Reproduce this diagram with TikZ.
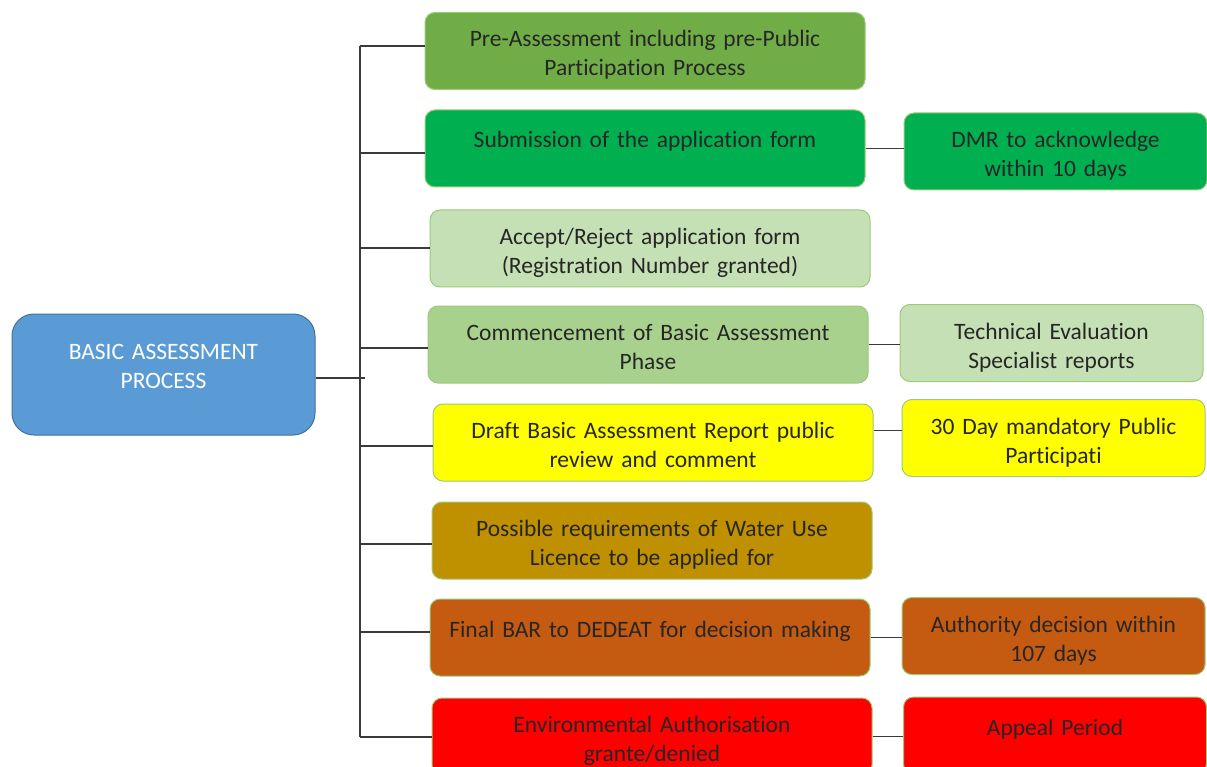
\documentclass[tikz,border=0pt]{standalone}
\usepackage{fontspec}
\setmainfont{Carlito}[Ligatures=CommonOff]
\usepackage{tikz}

\definecolor{mainblue}{HTML}{5B9BD5}
\definecolor{mainedge}{HTML}{41719C}
\definecolor{boxedge}{HTML}{9CCB78}
\definecolor{linegray}{HTML}{3A3A3A}
\definecolor{txt}{HTML}{262626}
\definecolor{cpre}{HTML}{70AD47}
\definecolor{csub}{HTML}{00B050}
\definecolor{clight}{HTML}{C5E0B4}
\definecolor{cmid}{HTML}{A9D18E}
\definecolor{cyel}{HTML}{FFFF00}
\definecolor{cgold}{HTML}{BF9000}
\definecolor{cbrown}{HTML}{C55A11}
\definecolor{cred}{HTML}{FF0000}

\tikzset{
  stepbox/.style={draw=boxedge, line width=1pt, rounded corners=10pt,
    minimum width=440pt, minimum height=77pt, text width=430pt, align=center,
    text=txt, font=\fontsize{23.5}{29}\selectfont,
    text height=26pt, text depth=34pt},
  sidebox/.style={stepbox, minimum width=303pt, text width=295pt},
  topline/.style={text height=26pt, text depth=27pt},
  link/.style={draw=linegray, line width=1.4pt}
}

\begin{document}
\begin{tikzpicture}[x=1pt,y=-1pt]
\clip (0,0) rectangle (1207,767);
\fill[white] (0,0) rectangle (1207,767);

\node[draw=mainedge, line width=1pt, fill=mainblue, rounded corners=22pt,
  minimum width=303pt, minimum height=121pt, text width=295pt, align=center,
  text=white, font=\fontsize{23.5}{29}\selectfont,
  text height=16pt, text depth=46pt]
  (main) at (163.5,374.5) {BASIC ASSESSMENT\\PROCESS};

% main column
\node[stepbox, fill=cpre] (b1) at (645,51) {Pre-Assessment including pre-Public\\Participation Process};
\node[stepbox, fill=csub, topline] (b2) at (645,148.5) {Submission of the application form};
\node[stepbox, fill=clight] (b3) at (650,248.5) {Accept/Reject application form\\(Registration Number granted)};
\node[stepbox, fill=cmid] (b4) at (648,344.5) {Commencement of Basic Assessment\\Phase};
\node[stepbox, fill=cyel] (b5) at (653,442.5) {Draft Basic Assessment Report public\\review and comment};
\node[stepbox, fill=cgold] (b6) at (652,540.5) {Possible requirements of Water Use\\Licence to be applied for};
\node[stepbox, fill=cbrown, topline] (b7) at (650,637.5) {Final BAR to DEDEAT for decision making};
\node[stepbox, fill=cred] (b8) at (652,736.5) {Environmental Authorisation\\grante/denied};

% side column
\node[sidebox, fill=csub] (s2) at (1055.5,151.5) {DMR to acknowledge\\within 10 days};
\node[sidebox, fill=clight] (s4) at (1051.5,343) {Technical Evaluation\\Specialist reports};
\node[sidebox, fill=cyel] (s5) at (1053.5,438) {30 Day mandatory Public\\Participati};
\node[sidebox, fill=cbrown] (s7) at (1053.5,636) {Authority decision within\\107 days};
\node[sidebox, fill=cred, topline] (s8) at (1055,735.5) {Appeal Period};

% trunk
\coordinate (t1) at (360,46);
\coordinate (t2) at (360,153);
\coordinate (t3) at (360,248);
\coordinate (t4) at (360,348);
\coordinate (t5) at (360,446);
\coordinate (t6) at (360,544);
\coordinate (t7) at (360,632);
\coordinate (t8) at (360,737);
\coordinate (tm) at (365,378);

\draw[link] (t1) -- (t8);
\draw[link] (main.east |- tm) -- (tm);
\foreach \i in {1,...,8}
  \draw[link] (t\i) -- (t\i -| b\i.west);

\draw[link] (b2.east) -- (b2.east -| s2.west);
\draw[link] (b4.east) -- (b4.east -| s4.west);
\draw[link] ([yshift=12pt]b5.east) -- ([yshift=12pt]b5.east -| s5.west);
\draw[link] (b7.east) -- (b7.east -| s7.west);
\draw[link] (b8.east) -- (b8.east -| s8.west);
\end{tikzpicture}
\end{document}
